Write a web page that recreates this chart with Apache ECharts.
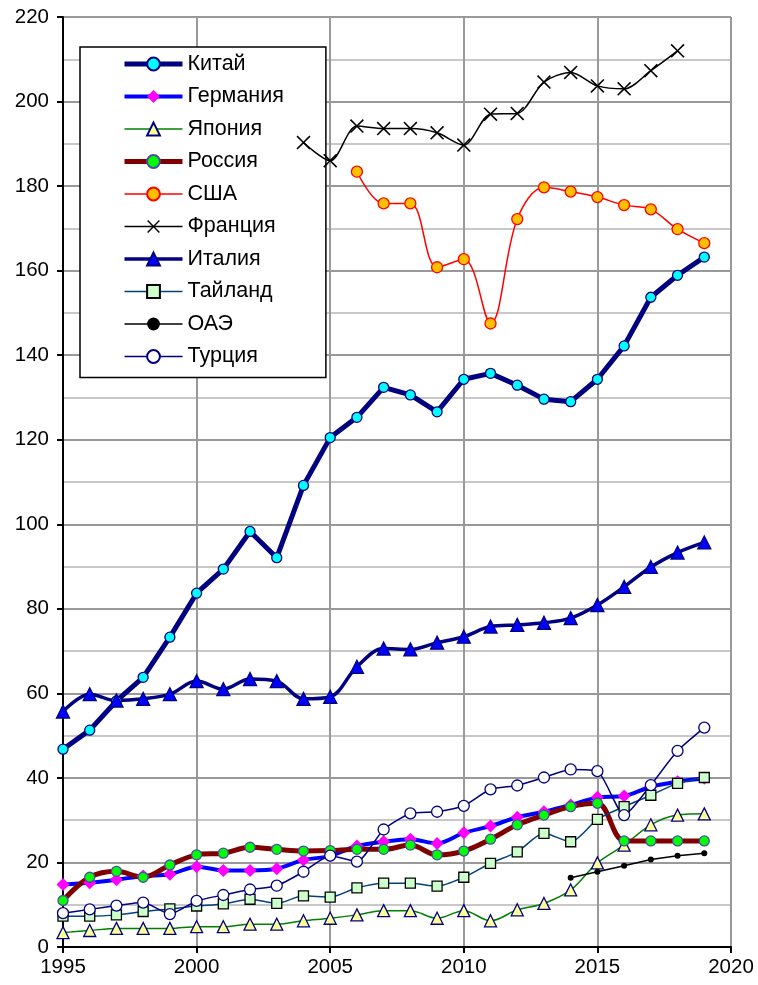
<!DOCTYPE html>
<html>
<head>
<meta charset="utf-8">
<script src="https://cdn.jsdelivr.net/npm/echarts@6/dist/echarts.min.js"></script>
<style>
  html, body { margin: 0; padding: 0; background: #fff; }
  #chart { width: 758px; height: 985px; }
</style>
</head>
<body>
<div id="chart"></div>
<script>
// Years on the horizontal axis
const years = [1995, 1996, 1997, 1998, 1999, 2000, 2001, 2002, 2003, 2004, 2005, 2006, 2007,
               2008, 2009, 2010, 2011, 2012, 2013, 2014, 2015, 2016, 2017, 2018, 2019];

// Series names (legend order)
const names = ['Китай', 'Германия', 'Япония', 'Россия', 'США', 'Франция', 'Италия', 'Тайланд', 'ОАЭ', 'Турция'];

// Values by year, null where there is no data
const china    = [46.8, 51.3, 58.2, 63.8, 73.3, 83.7, 89.4, 98.3, 92.1, 109.2, 120.5, 125.3, 132.4,
                  130.6, 126.6, 134.3, 135.7, 132.9, 129.6, 129.0, 134.3, 142.2, 153.7, 158.9, 163.2];
const germany  = [14.8, 15.2, 15.9, 16.8, 17.2, 19.0, 18.1, 18.1, 18.5, 20.6, 21.5, 23.9, 24.9,
                  25.5, 24.5, 27.0, 28.6, 30.7, 32.0, 33.6, 35.4, 35.7, 37.9, 39.1, 39.9];
const japan    = [3.4, 3.9, 4.4, 4.4, 4.4, 4.8, 4.8, 5.4, 5.4, 6.2, 6.8, 7.6, 8.6,
                  8.6, 6.8, 8.6, 6.2, 8.8, 10.3, 13.5, 19.9, 24.1, 28.9, 31.2, 31.5];
const russia   = [11.0, 16.5, 17.9, 16.5, 19.4, 21.8, 22.2, 23.6, 23.1, 22.7, 22.8, 23.1, 23.1,
                  24.1, 21.8, 22.7, 25.5, 28.9, 31.2, 33.2, 34.0, 25.1, 25.1, 25.1, 25.1];
const usa      = [null, null, null, null, null, null, null, null, null, null, null, 183.4, 175.9,
                  175.9, 160.8, 162.7, 147.5, 172.2, 179.7, 178.7, 177.4, 175.5, 174.5, 169.8, 166.5];
const france   = [null, null, null, null, null, null, null, null, null, 190.3, 186.0, 194.2, 193.6,
                  193.6, 192.6, 189.7, 197.0, 197.2, 204.6, 206.9, 203.7, 203.0, 207.3, 212.0, null];
const italy    = [55.7, 59.8, 58.3, 58.7, 59.8, 62.9, 61.0, 63.4, 62.9, 58.7, 59.2, 66.3, 70.6,
                  70.4, 72.0, 73.4, 75.8, 76.2, 76.7, 77.8, 80.9, 85.2, 89.9, 93.3, 95.7];
const thailand = [7.3, 7.3, 7.6, 8.4, 9.0, 9.7, 10.2, 11.3, 10.3, 12.1, 11.8, 14.0, 15.1,
                  15.1, 14.4, 16.5, 19.8, 22.5, 26.9, 24.9, 30.2, 33.2, 35.9, 38.7, 40.1];
const uae      = [null, null, null, null, null, null, null, null, null, null, null, null, null,
                  null, null, null, null, null, null, 16.4, 17.8, 19.2, 20.7, 21.6, 22.2];
const turkey   = [8.0, 8.9, 9.8, 10.5, 7.8, 10.9, 12.3, 13.6, 14.5, 17.8, 21.6, 20.2, 27.8,
                  31.6, 32.0, 33.4, 37.3, 38.2, 40.1, 42.0, 41.6, 31.2, 38.3, 46.4, 51.9];

// Axis ranges and tick steps
const xMin = 1995, xMax = 2020, xStep = 5;
const yMin = 0, yMax = 220, yStep = 20;

const FONT = 'Liberation Sans, Arial, sans-serif';
// Thin "×" cross used as the France marker
const CROSS = 'path://M1.6,0 L10,8.4 L18.4,0 L20,1.6 L11.6,10 L20,18.4 L18.4,20 L10,11.6 L1.6,20 L0,18.4 L8.4,10 L0,1.6 Z';

function pairs(values) {
  return years.map((y, i) => [y, values[i]]);
}

function line(name, values, cfg) {
  return {
    name: name,
    type: 'line',
    data: pairs(values),
    smooth: cfg.smooth || false,
    symbol: cfg.symbol,
    symbolSize: cfg.size,
    showAllSymbol: true,
    connectNulls: false,
    z: 2,
    lineStyle: { color: cfg.line, width: cfg.width },
    itemStyle: {
      color: cfg.fill,
      borderColor: cfg.border,
      borderWidth: cfg.borderWidth === undefined ? 1.3 : cfg.borderWidth
    },
    emphasis: { disabled: true },
    animation: false
  };
}

const series = [
  line(names[0], china,    { line: '#000080', width: 5,   symbol: 'circle',   size: 10, fill: '#00ffff', border: '#000080' }),
  line(names[1], germany,  { line: '#0000ff', width: 4,   symbol: 'diamond',  size: 13, fill: '#ff00ff', border: '#ff00ff', borderWidth: 0, smooth: 0.3 }),
  line(names[2], japan,    { line: '#008000', width: 1.5, symbol: 'triangle', size: 12, fill: '#ffff99', border: '#000080', smooth: 0.35 }),
  line(names[3], russia,   { line: '#800000', width: 5,   symbol: 'circle',   size: 10, fill: '#00ff00', border: '#4b4ba8', smooth: 0.35 }),
  line(names[4], usa,      { line: '#ff0000', width: 1.5, symbol: 'circle',   size: 11, fill: '#ffc000', border: '#ff0000', smooth: 0.35 }),
  line(names[5], france,   { line: '#000000', width: 1.5, symbol: CROSS,      size: 14, fill: '#000000', border: '#000000', borderWidth: 0, smooth: 0.3 }),
  line(names[6], italy,    { line: '#000080', width: 3.5, symbol: 'triangle', size: 13, fill: '#0000ff', border: '#000080', smooth: 0.35 }),
  line(names[7], thailand, { line: '#004080', width: 1.5, symbol: 'rect',     size: 10, fill: '#ccffcc', border: '#000000', smooth: 0.25 }),
  line(names[8], uae,      { line: '#000000', width: 1.5, symbol: 'circle',   size: 6,  fill: '#000000', border: '#000000', borderWidth: 0 }),
  line(names[9], turkey,   { line: '#000080', width: 1.5, symbol: 'circle',   size: 11, fill: '#ffffff', border: '#000080', smooth: 0.2 })
];

const chart = echarts.init(document.getElementById('chart'), null, { renderer: 'canvas' });

chart.setOption({
  backgroundColor: '#ffffff',
  animation: false,
  grid: { left: 63, right: 27, top: 17, bottom: 38, containLabel: false },
  legend: {
    data: names,
    orient: 'vertical',
    left: 80,
    top: 47,
    z: 1,
    backgroundColor: '#ffffff',
    borderColor: '#000000',
    borderWidth: 1.5,
    padding: [5, 42, 9, 42],
    itemWidth: 58,
    itemHeight: 16,
    itemGap: 8.5,
    selectedMode: false,
    lineStyle: { width: 'inherit' },
    textStyle: { fontFamily: FONT, fontSize: 21.5, color: '#000000', lineHeight: 24 }
  },
  xAxis: {
    type: 'value',
    min: xMin,
    max: xMax,
    interval: xStep,
    z: 0,
    axisLine: { show: true, onZero: false, lineStyle: { color: '#000000', width: 2 } },
    axisTick: { show: true, inside: false, length: 6, lineStyle: { color: '#000000', width: 2 } },
    axisLabel: { color: '#000000', fontFamily: FONT, fontSize: 20.5, margin: 10, formatter: v => String(v) },
    splitLine: { show: true, lineStyle: { color: '#999999', width: 2 } }
  },
  yAxis: {
    type: 'value',
    min: yMin,
    max: yMax,
    interval: yStep,
    z: 0,
    axisLine: { show: true, onZero: false, lineStyle: { color: '#000000', width: 2 } },
    axisTick: { show: true, inside: false, length: 6, lineStyle: { color: '#000000', width: 2 } },
    minorTick: { show: false, splitNumber: 2 },
    minorSplitLine: { show: true, lineStyle: { color: '#c8c8c8', width: 2 } },
    axisLabel: { color: '#000000', fontFamily: FONT, fontSize: 20.5, margin: 14 },
    splitLine: { show: true, lineStyle: { color: '#999999', width: 2 } }
  },
  series: series
});
</script>
</body>
</html>
